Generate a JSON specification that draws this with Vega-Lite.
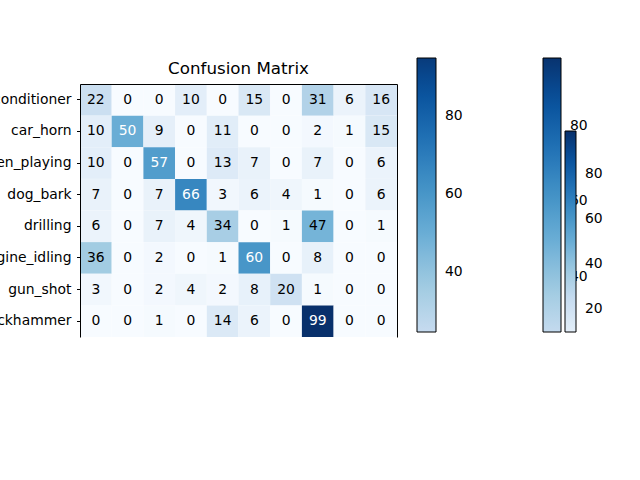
{
  "$schema": "https://vega.github.io/schema/vega-lite/v6.json",
  "autosize": "none",
  "padding": {"left": 80, "top": 84, "right": 243, "bottom": 143},
  "width": 317,
  "height": 253,
  "background": "white",
  "title": {"text": "Confusion Matrix", "fontSize": 16.7, "font": "DejaVu Sans", "fontWeight": "normal", "color": "black", "offset": 7, "dy": 27},
  "config": {
    "view": {"stroke": null},
    "font": "DejaVu Sans",
    "axis": {"labelFont": "DejaVu Sans", "labelFontSize": 13.9, "labelColor": "black", "domainColor": "black", "tickColor": "black", "grid": false, "title": null},
    "legend": {"labelFont": "DejaVu Sans", "labelFontSize": 13.9, "labelColor": "black", "gradientStrokeColor": "black", "gradientStrokeWidth": 1, "labelOffset": 9, "gradientLabelOffset": 9, "padding": 0, "orient": "none", "direction": "vertical", "title": null, "labelOverlap": false}
  },
  "data": {"values": [
    {"actual": "air_conditioner", "predicted": "air_conditioner", "count": 22},
    {"actual": "air_conditioner", "predicted": "car_horn", "count": 0},
    {"actual": "air_conditioner", "predicted": "children_playing", "count": 0},
    {"actual": "air_conditioner", "predicted": "dog_bark", "count": 10},
    {"actual": "air_conditioner", "predicted": "drilling", "count": 0},
    {"actual": "air_conditioner", "predicted": "engine_idling", "count": 15},
    {"actual": "air_conditioner", "predicted": "gun_shot", "count": 0},
    {"actual": "air_conditioner", "predicted": "jackhammer", "count": 31},
    {"actual": "air_conditioner", "predicted": "siren", "count": 6},
    {"actual": "air_conditioner", "predicted": "street_music", "count": 16},
    {"actual": "car_horn", "predicted": "air_conditioner", "count": 10},
    {"actual": "car_horn", "predicted": "car_horn", "count": 50},
    {"actual": "car_horn", "predicted": "children_playing", "count": 9},
    {"actual": "car_horn", "predicted": "dog_bark", "count": 0},
    {"actual": "car_horn", "predicted": "drilling", "count": 11},
    {"actual": "car_horn", "predicted": "engine_idling", "count": 0},
    {"actual": "car_horn", "predicted": "gun_shot", "count": 0},
    {"actual": "car_horn", "predicted": "jackhammer", "count": 2},
    {"actual": "car_horn", "predicted": "siren", "count": 1},
    {"actual": "car_horn", "predicted": "street_music", "count": 15},
    {"actual": "children_playing", "predicted": "air_conditioner", "count": 10},
    {"actual": "children_playing", "predicted": "car_horn", "count": 0},
    {"actual": "children_playing", "predicted": "children_playing", "count": 57},
    {"actual": "children_playing", "predicted": "dog_bark", "count": 0},
    {"actual": "children_playing", "predicted": "drilling", "count": 13},
    {"actual": "children_playing", "predicted": "engine_idling", "count": 7},
    {"actual": "children_playing", "predicted": "gun_shot", "count": 0},
    {"actual": "children_playing", "predicted": "jackhammer", "count": 7},
    {"actual": "children_playing", "predicted": "siren", "count": 0},
    {"actual": "children_playing", "predicted": "street_music", "count": 6},
    {"actual": "dog_bark", "predicted": "air_conditioner", "count": 7},
    {"actual": "dog_bark", "predicted": "car_horn", "count": 0},
    {"actual": "dog_bark", "predicted": "children_playing", "count": 7},
    {"actual": "dog_bark", "predicted": "dog_bark", "count": 66},
    {"actual": "dog_bark", "predicted": "drilling", "count": 3},
    {"actual": "dog_bark", "predicted": "engine_idling", "count": 6},
    {"actual": "dog_bark", "predicted": "gun_shot", "count": 4},
    {"actual": "dog_bark", "predicted": "jackhammer", "count": 1},
    {"actual": "dog_bark", "predicted": "siren", "count": 0},
    {"actual": "dog_bark", "predicted": "street_music", "count": 6},
    {"actual": "drilling", "predicted": "air_conditioner", "count": 6},
    {"actual": "drilling", "predicted": "car_horn", "count": 0},
    {"actual": "drilling", "predicted": "children_playing", "count": 7},
    {"actual": "drilling", "predicted": "dog_bark", "count": 4},
    {"actual": "drilling", "predicted": "drilling", "count": 34},
    {"actual": "drilling", "predicted": "engine_idling", "count": 0},
    {"actual": "drilling", "predicted": "gun_shot", "count": 1},
    {"actual": "drilling", "predicted": "jackhammer", "count": 47},
    {"actual": "drilling", "predicted": "siren", "count": 0},
    {"actual": "drilling", "predicted": "street_music", "count": 1},
    {"actual": "engine_idling", "predicted": "air_conditioner", "count": 36},
    {"actual": "engine_idling", "predicted": "car_horn", "count": 0},
    {"actual": "engine_idling", "predicted": "children_playing", "count": 2},
    {"actual": "engine_idling", "predicted": "dog_bark", "count": 0},
    {"actual": "engine_idling", "predicted": "drilling", "count": 1},
    {"actual": "engine_idling", "predicted": "engine_idling", "count": 60},
    {"actual": "engine_idling", "predicted": "gun_shot", "count": 0},
    {"actual": "engine_idling", "predicted": "jackhammer", "count": 8},
    {"actual": "engine_idling", "predicted": "siren", "count": 0},
    {"actual": "engine_idling", "predicted": "street_music", "count": 0},
    {"actual": "gun_shot", "predicted": "air_conditioner", "count": 3},
    {"actual": "gun_shot", "predicted": "car_horn", "count": 0},
    {"actual": "gun_shot", "predicted": "children_playing", "count": 2},
    {"actual": "gun_shot", "predicted": "dog_bark", "count": 4},
    {"actual": "gun_shot", "predicted": "drilling", "count": 2},
    {"actual": "gun_shot", "predicted": "engine_idling", "count": 8},
    {"actual": "gun_shot", "predicted": "gun_shot", "count": 20},
    {"actual": "gun_shot", "predicted": "jackhammer", "count": 1},
    {"actual": "gun_shot", "predicted": "siren", "count": 0},
    {"actual": "gun_shot", "predicted": "street_music", "count": 0},
    {"actual": "jackhammer", "predicted": "air_conditioner", "count": 0},
    {"actual": "jackhammer", "predicted": "car_horn", "count": 0},
    {"actual": "jackhammer", "predicted": "children_playing", "count": 1},
    {"actual": "jackhammer", "predicted": "dog_bark", "count": 0},
    {"actual": "jackhammer", "predicted": "drilling", "count": 14},
    {"actual": "jackhammer", "predicted": "engine_idling", "count": 6},
    {"actual": "jackhammer", "predicted": "gun_shot", "count": 0},
    {"actual": "jackhammer", "predicted": "jackhammer", "count": 99},
    {"actual": "jackhammer", "predicted": "siren", "count": 0},
    {"actual": "jackhammer", "predicted": "street_music", "count": 0}
  ]},
  "encoding": {
    "x": {"field": "predicted", "type": "nominal",
      "sort": ["air_conditioner","car_horn","children_playing","dog_bark","drilling","engine_idling","gun_shot","jackhammer","siren","street_music"],
      "scale": {"paddingInner": 0, "paddingOuter": 0},
      "axis": {"orient": "top", "labels": false, "ticks": false, "domainColor": "black"}},
    "y": {"field": "actual", "type": "nominal",
      "sort": ["air_conditioner","car_horn","children_playing","dog_bark","drilling","engine_idling","gun_shot","jackhammer"],
      "scale": {"paddingInner": 0, "paddingOuter": 0}, "axis": null}
  },
  "layer": [
    {
      "mark": {"type": "rect"},
      "encoding": {
        "y": {"field": "actual", "type": "nominal",
          "sort": ["air_conditioner","car_horn","children_playing","dog_bark","drilling","engine_idling","gun_shot","jackhammer"],
          "scale": {"paddingInner": 0, "paddingOuter": 0},
          "axis": {"orient": "left", "tickSize": 3.5, "labelPadding": 5.5}},
        "color": {"field": "count", "type": "quantitative", "legend": null,
          "scale": {"domain": [0, 12.375, 24.75, 37.125, 49.5, 61.875, 74.25, 86.625, 99],
            "range": ["#f7fbff","#deebf7","#c6dbef","#9ecae1","#6baed6","#4292c6","#2171b5","#08519c","#08306b"], "interpolate": "rgb"}}
      }
    },
    {
      "mark": {"type": "text", "fontSize": 13.9, "font": "DejaVu Sans", "baseline": "middle", "align": "center"},
      "encoding": {
        "text": {"field": "count", "type": "quantitative"},
        "color": {"condition": {"test": "datum.count > 49.5", "value": "white"}, "value": "black"}
      }
    },
    {
      "mark": {"type": "rect", "opacity": 0},
      "encoding": {
        "y": {"field": "actual", "type": "nominal",
          "sort": ["air_conditioner","car_horn","children_playing","dog_bark","drilling","engine_idling","gun_shot","jackhammer"],
          "scale": {"paddingInner": 0, "paddingOuter": 0},
          "axis": {"orient": "right", "labels": false, "ticks": false, "domainColor": "black"}},
        "color": {"field": "count", "type": "quantitative",
          "scale": {"domain": [24.6, 37.125, 49.5, 61.875, 74.25, 86.625, 94.9],
            "range": ["#c6dbef","#9ecae1","#6baed6","#4292c6","#2171b5","#08519c","#083b7b"], "interpolate": "rgb"},
          "legend": {"legendX": 337, "legendY": -26, "gradientLength": 274, "gradientThickness": 19, "values": [40, 60, 80]}}
      }
    },
    {
      "mark": {"type": "rect", "opacity": 0},
      "encoding": {
        "color": {"field": "count", "type": "quantitative",
          "scale": {"domain": [25.4, 37.125, 49.5, 61.875, 74.25, 86.625, 98],
            "range": ["#c4daee","#9ecae1","#6baed6","#4292c6","#2171b5","#08519c","#08336f"], "interpolate": "rgb"},
          "legend": {"legendX": 463, "legendY": -26, "gradientLength": 274, "gradientThickness": 18, "values": [40, 60, 80]}}
      }
    },
    {
      "mark": {"type": "rect", "opacity": 0},
      "encoding": {
        "color": {"field": "count", "type": "quantitative",
          "scale": {"domain": [9.8, 12.375, 24.75, 37.125, 49.5, 61.875, 74.25, 86.625, 99],
            "range": ["#e3eef9","#deebf7","#c6dbef","#9ecae1","#6baed6","#4292c6","#2171b5","#08519c","#08306b"], "interpolate": "rgb"},
          "legend": {"legendX": 485, "legendY": 47, "gradientLength": 201, "gradientThickness": 11, "values": [20, 40, 60, 80], "zindex": 1}}
      }
    }
  ],
  "resolve": {"scale": {"color": "independent"}, "legend": {"color": "independent"}, "axis": {"y": "independent"}}
}
